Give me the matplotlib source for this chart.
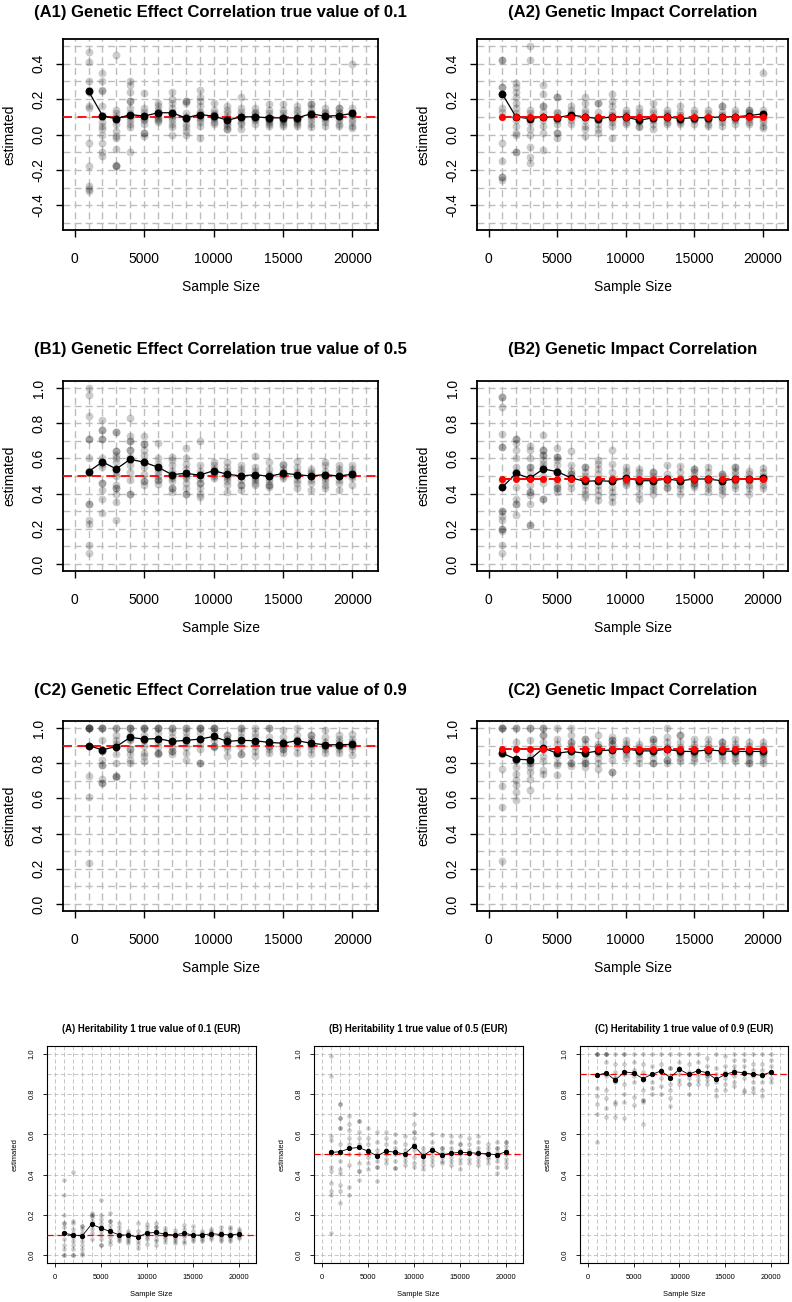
import matplotlib.pyplot as plt
from matplotlib.ticker import MultipleLocator, FixedLocator, FormatStrFormatter

plt.rcParams['font.family'] = ['Liberation Sans', 'DejaVu Sans']
plt.rcParams['axes.unicode_minus'] = False

sizes = [1000, 2000, 3000, 4000, 5000, 6000, 7000, 8000, 9000, 10000,
         11000, 12000, 13000, 14000, 15000, 16000, 17000, 18000, 19000, 20000]

# (A1) genetic effect correlation, true 0.1
a1_pts = [
    [0.465, 0.41, 0.30, 0.25, 0.24, 0.16, 0.15, -0.05, -0.18, -0.29, -0.31, -0.32],
    [0.35, 0.30, 0.25, 0.245, 0.16, 0.11, 0.10, 0.07, 0.05, 0.03, 0.0, -0.05, -0.10, -0.12],
    [0.45, 0.14, 0.12, 0.10, 0.09, 0.08, 0.06, 0.02, -0.01, -0.02, -0.08, -0.17, -0.18, -0.18],
    [0.30, 0.28, 0.24, 0.19, 0.19, 0.15, 0.12, 0.11, 0.10, 0.08, 0.06, 0.04, -0.10],
    [0.235, 0.15, 0.13, 0.11, 0.10, 0.09, 0.08, 0.06, 0.01, 0.01, -0.01],
    [0.18, 0.16, 0.14, 0.13, 0.12, 0.11, 0.10, 0.09, 0.08, 0.07],
    [0.24, 0.20, 0.18, 0.15, 0.13, 0.12, 0.11, 0.10, 0.08, 0.06, 0.04, 0.00],
    [0.19, 0.19, 0.18, 0.12, 0.10, 0.09, 0.09, 0.06, 0.04, 0.02, 0.00],
    [0.25, 0.21, 0.19, 0.16, 0.13, 0.12, 0.11, 0.10, 0.09, 0.07, 0.05, -0.02],
    [0.18, 0.14, 0.12, 0.11, 0.11, 0.10, 0.10, 0.09, 0.07, 0.06],
    [0.16, 0.14, 0.12, 0.10, 0.09, 0.08, 0.07, 0.06, 0.05, 0.03, 0.03],
    [0.21, 0.15, 0.13, 0.11, 0.10, 0.10, 0.09, 0.07, 0.06, 0.03],
    [0.15, 0.13, 0.12, 0.11, 0.10, 0.10, 0.09, 0.08, 0.06],
    [0.17, 0.14, 0.12, 0.10, 0.09, 0.09, 0.08, 0.07, 0.06, 0.05],
    [0.17, 0.14, 0.12, 0.10, 0.09, 0.09, 0.08, 0.07, 0.06, 0.05],
    [0.16, 0.14, 0.12, 0.10, 0.09, 0.09, 0.08, 0.07, 0.06, 0.05],
    [0.17, 0.17, 0.15, 0.13, 0.12, 0.11, 0.10, 0.08, 0.06, 0.04],
    [0.15, 0.13, 0.12, 0.11, 0.10, 0.10, 0.09, 0.07, 0.05],
    [0.15, 0.15, 0.13, 0.12, 0.11, 0.10, 0.10, 0.08, 0.06, 0.05],
    [0.40, 0.15, 0.13, 0.12, 0.11, 0.11, 0.09, 0.07, 0.05, 0.035],
]
a1_mean = [0.245, 0.107, 0.088, 0.113, 0.104, 0.123, 0.123, 0.094, 0.113, 0.104,
           0.081, 0.100, 0.100, 0.094, 0.094, 0.094, 0.117, 0.104, 0.107, 0.119]

# (A2) genetic impact correlation
a2_pts = [
    [0.42, 0.42, 0.27, 0.27, 0.23, 0.15, 0.13, 0.10, -0.05, -0.15, -0.24, -0.24, -0.26],
    [0.29, 0.27, 0.24, 0.21, 0.18, 0.15, 0.12, 0.10, 0.08, 0.05, 0.01, 0.0, -0.10, -0.10],
    [0.50, 0.42, 0.14, 0.12, 0.10, 0.09, 0.07, 0.03, 0.0, -0.07, -0.13, -0.16],
    [0.28, 0.23, 0.16, 0.16, 0.13, 0.10, 0.10, 0.08, 0.05, 0.01, -0.09],
    [0.21, 0.21, 0.13, 0.12, 0.10, 0.09, 0.08, 0.06, 0.01, 0.01, -0.02],
    [0.16, 0.14, 0.12, 0.11, 0.11, 0.10, 0.08, 0.06],
    [0.21, 0.18, 0.14, 0.12, 0.10, 0.10, 0.08, 0.05, 0.03, -0.01],
    [0.18, 0.18, 0.13, 0.10, 0.09, 0.08, 0.06, 0.03, 0.01],
    [0.23, 0.19, 0.16, 0.13, 0.11, 0.10, 0.09, 0.07, 0.05, -0.02],
    [0.14, 0.12, 0.11, 0.10, 0.10, 0.09, 0.07, 0.06],
    [0.15, 0.13, 0.11, 0.09, 0.08, 0.07, 0.05, 0.04],
    [0.18, 0.14, 0.12, 0.10, 0.09, 0.08, 0.06, 0.03],
    [0.14, 0.12, 0.11, 0.10, 0.10, 0.09, 0.07, 0.06],
    [0.16, 0.13, 0.11, 0.09, 0.09, 0.08, 0.07, 0.06],
    [0.14, 0.12, 0.10, 0.09, 0.09, 0.08, 0.06],
    [0.14, 0.12, 0.10, 0.09, 0.09, 0.08, 0.06, 0.05],
    [0.16, 0.16, 0.13, 0.11, 0.10, 0.09, 0.07, 0.05],
    [0.14, 0.12, 0.10, 0.10, 0.09, 0.08, 0.06],
    [0.14, 0.14, 0.13, 0.12, 0.10, 0.09, 0.07, 0.06],
    [0.35, 0.14, 0.12, 0.11, 0.09, 0.07, 0.05, 0.035],
]
a2_mean = [0.23, 0.10, 0.09, 0.10, 0.095, 0.11, 0.10, 0.09, 0.10, 0.10,
           0.08, 0.095, 0.10, 0.09, 0.095, 0.095, 0.10, 0.10, 0.107, 0.117]
a2_true = [0.10, 0.10, 0.10, 0.10, 0.10, 0.10, 0.10, 0.10, 0.10, 0.10,
           0.10, 0.10, 0.10, 0.10, 0.10, 0.10, 0.10, 0.10, 0.10, 0.10]

# (B1) genetic effect correlation, true 0.5
b1_pts = [
    [1.0, 0.96, 0.84, 0.71, 0.71, 0.60, 0.53, 0.34, 0.34, 0.25, 0.23, 0.11, 0.065],
    [0.82, 0.76, 0.76, 0.71, 0.71, 0.60, 0.58, 0.57, 0.55, 0.46, 0.46, 0.42, 0.37, 0.29],
    [0.75, 0.75, 0.64, 0.64, 0.62, 0.60, 0.58, 0.54, 0.52, 0.50, 0.45, 0.43, 0.43, 0.40, 0.355, 0.25],
    [0.83, 0.73, 0.70, 0.70, 0.65, 0.65, 0.61, 0.59, 0.56, 0.52, 0.48, 0.40, 0.40],
    [0.73, 0.68, 0.68, 0.65, 0.62, 0.58, 0.55, 0.51, 0.47, 0.47, 0.45],
    [0.69, 0.60, 0.57, 0.55, 0.54, 0.52, 0.50, 0.48, 0.48, 0.455],
    [0.61, 0.59, 0.56, 0.53, 0.51, 0.50, 0.49, 0.47, 0.43, 0.43, 0.41],
    [0.66, 0.60, 0.57, 0.54, 0.51, 0.50, 0.49, 0.46, 0.43, 0.40, 0.40],
    [0.70, 0.56, 0.53, 0.51, 0.49, 0.46, 0.46, 0.43, 0.40, 0.38],
    [0.58, 0.56, 0.54, 0.53, 0.52, 0.51, 0.50, 0.49],
    [0.58, 0.55, 0.53, 0.51, 0.50, 0.49, 0.47, 0.45, 0.41],
    [0.56, 0.54, 0.52, 0.50, 0.50, 0.48, 0.45, 0.45, 0.42],
    [0.615, 0.55, 0.53, 0.51, 0.50, 0.49, 0.48, 0.46, 0.45],
    [0.58, 0.54, 0.51, 0.50, 0.49, 0.47, 0.45, 0.45, 0.44],
    [0.57, 0.56, 0.54, 0.52, 0.51, 0.51, 0.50, 0.49],
    [0.585, 0.55, 0.52, 0.51, 0.50, 0.48, 0.46, 0.43],
    [0.54, 0.52, 0.51, 0.50, 0.50, 0.48, 0.46, 0.42],
    [0.58, 0.56, 0.53, 0.51, 0.50, 0.49, 0.47, 0.45, 0.43],
    [0.56, 0.54, 0.52, 0.50, 0.50, 0.48, 0.46, 0.42],
    [0.565, 0.54, 0.52, 0.51, 0.51, 0.50, 0.49, 0.45],
]
b1_mean = [0.525, 0.58, 0.54, 0.595, 0.578, 0.55, 0.508, 0.515, 0.505, 0.53,
           0.51, 0.50, 0.508, 0.498, 0.515, 0.508, 0.50, 0.508, 0.50, 0.51]

# (B2) genetic impact correlation
b2_pts = [
    [0.95, 0.95, 0.89, 0.74, 0.665, 0.665, 0.48, 0.30, 0.30, 0.27, 0.25, 0.20, 0.20, 0.19, 0.11, 0.06],
    [0.71, 0.71, 0.69, 0.65, 0.60, 0.55, 0.52, 0.49, 0.44, 0.37, 0.34, 0.34, 0.28],
    [0.67, 0.65, 0.60, 0.55, 0.55, 0.52, 0.49, 0.45, 0.41, 0.41, 0.39, 0.34, 0.22, 0.22],
    [0.735, 0.65, 0.65, 0.62, 0.62, 0.59, 0.57, 0.55, 0.50, 0.46, 0.37, 0.37],
    [0.66, 0.61, 0.61, 0.59, 0.56, 0.53, 0.52, 0.48, 0.45, 0.43, 0.43, 0.41],
    [0.64, 0.56, 0.53, 0.51, 0.51, 0.49, 0.46, 0.43],
    [0.55, 0.55, 0.52, 0.50, 0.48, 0.47, 0.45, 0.42, 0.40, 0.38],
    [0.59, 0.57, 0.54, 0.51, 0.48, 0.47, 0.45, 0.42, 0.39, 0.365],
    [0.645, 0.57, 0.52, 0.49, 0.47, 0.47, 0.44, 0.41, 0.38, 0.355],
    [0.55, 0.53, 0.51, 0.49, 0.48, 0.47, 0.46, 0.45],
    [0.54, 0.52, 0.50, 0.48, 0.47, 0.46, 0.44, 0.40, 0.37],
    [0.52, 0.52, 0.50, 0.48, 0.47, 0.46, 0.44, 0.42, 0.40],
    [0.56, 0.51, 0.49, 0.48, 0.48, 0.46, 0.44, 0.43],
    [0.555, 0.52, 0.49, 0.47, 0.47, 0.45, 0.43, 0.40],
    [0.54, 0.54, 0.52, 0.50, 0.48, 0.46, 0.46, 0.45, 0.44],
    [0.55, 0.52, 0.49, 0.48, 0.47, 0.45, 0.43, 0.41],
    [0.51, 0.51, 0.50, 0.48, 0.47, 0.46, 0.44, 0.42, 0.395],
    [0.55, 0.55, 0.53, 0.51, 0.49, 0.48, 0.47, 0.45, 0.43],
    [0.53, 0.51, 0.49, 0.48, 0.47, 0.45, 0.43, 0.40],
    [0.545, 0.52, 0.50, 0.49, 0.49, 0.47, 0.45, 0.43],
]
b2_mean = [0.435, 0.515, 0.487, 0.54, 0.525, 0.49, 0.47, 0.473, 0.47, 0.49,
           0.473, 0.473, 0.483, 0.473, 0.483, 0.483, 0.473, 0.483, 0.483, 0.487]
b2_true = [0.485, 0.485, 0.485, 0.485, 0.485, 0.485, 0.485, 0.485, 0.485, 0.485,
           0.485, 0.485, 0.485, 0.485, 0.485, 0.485, 0.485, 0.485, 0.485, 0.485]

# (C1) genetic effect correlation, true 0.9
c1_pts = [
    [1.0, 1.0, 1.0, 1.0, 1.0, 0.90, 0.73, 0.61, 0.235],
    [1.0, 1.0, 1.0, 0.93, 0.87, 0.87, 0.82, 0.79, 0.79, 0.71, 0.685, 0.685],
    [1.0, 1.0, 0.96, 0.93, 0.91, 0.89, 0.85, 0.80, 0.73, 0.73, 0.72],
    [1.0, 1.0, 1.0, 0.96, 0.94, 0.93, 0.88, 0.88, 0.85, 0.82, 0.80],
    [1.0, 1.0, 1.0, 0.96, 0.93, 0.93, 0.90, 0.86, 0.84, 0.815],
    [1.0, 1.0, 1.0, 0.97, 0.94, 0.92, 0.89, 0.86, 0.86, 0.85],
    [1.0, 1.0, 0.98, 0.95, 0.92, 0.92, 0.89, 0.87, 0.87, 0.85],
    [1.0, 1.0, 0.98, 0.95, 0.93, 0.92, 0.89, 0.86, 0.82],
    [1.0, 1.0, 1.0, 0.97, 0.94, 0.91, 0.88, 0.80, 0.80],
    [1.0, 1.0, 1.0, 0.98, 0.95, 0.93, 0.90, 0.90, 0.89],
    [0.96, 0.96, 0.94, 0.92, 0.92, 0.90, 0.88, 0.84],
    [1.0, 1.0, 0.98, 0.95, 0.92, 0.89, 0.85, 0.85],
    [1.0, 0.97, 0.95, 0.92, 0.92, 0.90, 0.87, 0.84],
    [1.0, 1.0, 0.95, 0.92, 0.90, 0.90, 0.88, 0.86],
    [0.99, 0.95, 0.92, 0.91, 0.90, 0.88, 0.88, 0.86],
    [1.0, 0.96, 0.93, 0.93, 0.91, 0.89, 0.86],
    [0.96, 0.96, 0.94, 0.92, 0.91, 0.90, 0.88, 0.85],
    [0.99, 0.95, 0.92, 0.90, 0.90, 0.88, 0.86],
    [0.96, 0.94, 0.92, 0.90, 0.90, 0.88, 0.86],
    [0.965, 0.94, 0.92, 0.90, 0.90, 0.88, 0.845],
]
c1_mean = [0.90, 0.876, 0.895, 0.947, 0.937, 0.94, 0.924, 0.93, 0.937, 0.952,
           0.924, 0.93, 0.928, 0.918, 0.914, 0.928, 0.914, 0.905, 0.905, 0.907]

# (C2) genetic impact correlation
c2_pts = [
    [1.0, 1.0, 1.0, 0.85, 0.765, 0.67, 0.55, 0.245],
    [1.0, 1.0, 0.92, 0.88, 0.82, 0.82, 0.78, 0.74, 0.705, 0.676, 0.638, 0.59],
    [1.0, 1.0, 0.93, 0.88, 0.84, 0.80, 0.80, 0.78, 0.75, 0.71, 0.65],
    [1.0, 1.0, 0.96, 0.96, 0.92, 0.88, 0.84, 0.81, 0.76, 0.74],
    [1.0, 0.94, 0.91, 0.87, 0.86, 0.84, 0.80, 0.79, 0.735],
    [1.0, 0.96, 0.92, 0.92, 0.90, 0.87, 0.84, 0.80, 0.80, 0.785],
    [0.94, 0.94, 0.91, 0.88, 0.86, 0.85, 0.82, 0.80, 0.80, 0.78],
    [0.96, 0.91, 0.89, 0.89, 0.86, 0.83, 0.80, 0.765],
    [0.95, 0.93, 0.93, 0.91, 0.91, 0.88, 0.85, 0.82, 0.75, 0.75],
    [0.93, 0.91, 0.89, 0.88, 0.87, 0.85, 0.83],
    [0.91, 0.89, 0.87, 0.87, 0.85, 0.83, 0.80],
    [0.94, 0.94, 0.92, 0.89, 0.87, 0.86, 0.83, 0.80, 0.80],
    [1.0, 0.95, 0.92, 0.89, 0.88, 0.86, 0.82, 0.82, 0.80],
    [0.96, 0.96, 0.92, 0.89, 0.87, 0.86, 0.85, 0.83, 0.81],
    [0.94, 0.91, 0.89, 0.87, 0.86, 0.85, 0.83, 0.81],
    [0.94, 0.91, 0.89, 0.87, 0.87, 0.85, 0.83],
    [0.92, 0.92, 0.90, 0.88, 0.87, 0.86, 0.84, 0.82],
    [0.94, 0.91, 0.89, 0.87, 0.86, 0.85, 0.83, 0.81],
    [0.92, 0.90, 0.88, 0.86, 0.86, 0.84, 0.82, 0.80, 0.80],
    [0.92, 0.90, 0.88, 0.86, 0.86, 0.84, 0.82, 0.80],
]
c2_mean = [0.857, 0.823, 0.819, 0.886, 0.857, 0.867, 0.857, 0.87, 0.876, 0.882,
           0.87, 0.87, 0.88, 0.867, 0.867, 0.876, 0.87, 0.867, 0.867, 0.867]
c2_true = [0.88, 0.88, 0.88, 0.88, 0.88, 0.88, 0.88, 0.88, 0.88, 0.88,
           0.88, 0.88, 0.88, 0.88, 0.88, 0.88, 0.88, 0.88, 0.88, 0.88]

# heritability panels (EUR)
ha_pts = [
    [0.375, 0.30, 0.20, 0.16, 0.16, 0.14, 0.11, 0.08, 0.05, 0.03, 0.0, 0.0],
    [0.415, 0.17, 0.16, 0.13, 0.11, 0.09, 0.07, 0.05, 0.03, 0.0, 0.0],
    [0.145, 0.145, 0.13, 0.11, 0.09, 0.07, 0.05, 0.03, 0.01, 0.0],
    [0.21, 0.20, 0.20, 0.19, 0.17, 0.15, 0.13, 0.11, 0.08],
    [0.275, 0.20, 0.18, 0.16, 0.14, 0.14, 0.12, 0.10, 0.08, 0.05, 0.05],
    [0.21, 0.17, 0.17, 0.15, 0.13, 0.11, 0.09, 0.07, 0.055],
    [0.16, 0.14, 0.12, 0.10, 0.09, 0.08, 0.07],
    [0.12, 0.11, 0.10, 0.09, 0.08, 0.07, 0.06],
    [0.16, 0.12, 0.10, 0.09, 0.09, 0.07, 0.055, 0.035],
    [0.155, 0.14, 0.12, 0.10, 0.09, 0.08, 0.055],
    [0.16, 0.14, 0.14, 0.12, 0.10, 0.08, 0.07, 0.05],
    [0.135, 0.12, 0.11, 0.10, 0.09, 0.08, 0.065],
    [0.125, 0.11, 0.10, 0.09, 0.08, 0.07, 0.06],
    [0.15, 0.13, 0.11, 0.10, 0.09, 0.07, 0.06],
    [0.145, 0.12, 0.10, 0.09, 0.08, 0.07],
    [0.12, 0.11, 0.10, 0.09, 0.08, 0.07],
    [0.13, 0.12, 0.11, 0.11, 0.10, 0.09, 0.08],
    [0.14, 0.12, 0.11, 0.10, 0.09, 0.08, 0.07],
    [0.14, 0.13, 0.11, 0.10, 0.09, 0.08, 0.07],
    [0.13, 0.12, 0.11, 0.10, 0.09, 0.085],
]
ha_mean = [0.109, 0.099, 0.096, 0.153, 0.134, 0.117, 0.10, 0.099, 0.089, 0.109,
           0.112, 0.104, 0.099, 0.109, 0.099, 0.099, 0.106, 0.102, 0.10, 0.104]

hb_pts = [
    [0.99, 0.89, 0.59, 0.57, 0.50, 0.44, 0.42, 0.36, 0.32, 0.30, 0.11],
    [0.75, 0.75, 0.68, 0.68, 0.63, 0.63, 0.55, 0.47, 0.43, 0.41, 0.35, 0.32, 0.26],
    [0.69, 0.65, 0.62, 0.58, 0.55, 0.50, 0.45, 0.34, 0.30],
    [0.665, 0.665, 0.61, 0.58, 0.55, 0.50, 0.46, 0.42, 0.42, 0.375],
    [0.63, 0.58, 0.55, 0.52, 0.49, 0.46, 0.43],
    [0.61, 0.56, 0.52, 0.50, 0.47, 0.44, 0.44, 0.37],
    [0.61, 0.58, 0.55, 0.52, 0.50, 0.48, 0.46],
    [0.60, 0.56, 0.53, 0.50, 0.47, 0.435, 0.435],
    [0.59, 0.55, 0.52, 0.49, 0.47, 0.45],
    [0.70, 0.65, 0.61, 0.61, 0.58, 0.55, 0.52, 0.49, 0.46, 0.44],
    [0.53, 0.51, 0.49, 0.47, 0.45, 0.43],
    [0.60, 0.56, 0.53, 0.51, 0.49, 0.47, 0.45],
    [0.595, 0.53, 0.53, 0.51, 0.49, 0.47, 0.46],
    [0.59, 0.56, 0.53, 0.51, 0.49, 0.47, 0.45],
    [0.59, 0.55, 0.55, 0.52, 0.50, 0.48, 0.46, 0.43],
    [0.58, 0.55, 0.52, 0.50, 0.48, 0.46],
    [0.59, 0.56, 0.53, 0.51, 0.49, 0.47, 0.45],
    [0.55, 0.53, 0.51, 0.49, 0.48, 0.46],
    [0.56, 0.53, 0.53, 0.51, 0.49, 0.47, 0.44, 0.41],
    [0.56, 0.56, 0.54, 0.52, 0.50, 0.48, 0.46, 0.44],
]
hb_mean = [0.51, 0.514, 0.53, 0.535, 0.517, 0.493, 0.517, 0.511, 0.502, 0.544,
           0.494, 0.524, 0.498, 0.506, 0.511, 0.509, 0.506, 0.504, 0.498, 0.514]

hc_pts = [
    [1.0, 1.0, 1.0, 0.83, 0.79, 0.75, 0.70, 0.56],
    [1.0, 1.0, 1.0, 0.96, 0.89, 0.82, 0.78, 0.73, 0.685],
    [1.0, 0.95, 0.91, 0.88, 0.88, 0.86, 0.76, 0.75, 0.685],
    [1.0, 1.0, 0.95, 0.90, 0.85, 0.80, 0.76, 0.68],
    [1.0, 0.96, 0.92, 0.89, 0.86, 0.785, 0.745],
    [1.0, 0.95, 0.91, 0.87, 0.82, 0.77, 0.77, 0.76, 0.65],
    [1.0, 0.94, 0.90, 0.86, 0.83, 0.80],
    [1.0, 0.95, 0.92, 0.88, 0.84, 0.80],
    [1.0, 0.93, 0.93, 0.89, 0.85, 0.82, 0.78, 0.74],
    [1.0, 0.96, 0.93, 0.90, 0.87, 0.85],
    [1.0, 0.95, 0.91, 0.88, 0.85, 0.85, 0.80],
    [1.0, 0.96, 0.92, 0.89, 0.87, 0.85],
    [0.98, 0.94, 0.91, 0.89, 0.89, 0.87, 0.85],
    [1.0, 0.93, 0.90, 0.86, 0.82, 0.79],
    [0.99, 0.94, 0.91, 0.88, 0.85, 0.82],
    [1.0, 0.97, 0.94, 0.92, 0.89, 0.86, 0.84],
    [1.0, 0.97, 0.94, 0.91, 0.88, 0.82, 0.81],
    [1.0, 0.95, 0.92, 0.89, 0.86, 0.83, 0.81],
    [1.0, 0.95, 0.92, 0.89, 0.86, 0.82, 0.79],
    [1.0, 0.97, 0.94, 0.91, 0.88, 0.86],
]
hc_mean = [0.894, 0.906, 0.87, 0.911, 0.906, 0.878, 0.899, 0.916, 0.883, 0.924,
           0.899, 0.917, 0.907, 0.874, 0.899, 0.912, 0.907, 0.899, 0.894, 0.911]

W, H = 792, 1302
fig = plt.figure(figsize=(W / 100, H / 100), dpi=100)


def box(l, t, r, b):
    return fig.add_axes([l / W, 1 - b / H, (r - l) / W, (b - t) / H])


def panel(ax, pts, mean, truth, big=True, red=None, lowrange=False):
    l, b, w, h = ax.get_position().bounds
    wpx, hpx = w * W, h * H
    if big:
        fs, s, ms, lw, tl, gl = 10, 32, 4.6, 0.9, 5, 1.0
    else:
        fs, s, ms, lw, tl, gl = 5.4, 11, 2.8, 0.6, 3, 0.6

    xs, ys = [], []
    for x, vals in zip(sizes, pts):
        xs += [x] * len(vals)
        ys += vals
    ax.scatter(xs, ys, s=s, color='black', alpha=0.2, linewidths=0, zorder=2)

    if red is None:
        ax.axhline(truth, color='red', lw=1.3 if big else 0.9, dashes=(5, 3), zorder=3)
        ax.plot(sizes, mean, color='black', lw=lw, marker='o', ms=ms, zorder=4)
    else:
        ax.plot(sizes, mean, color='black', lw=lw, marker='o', ms=ms, zorder=3)
        ax.plot(sizes, red, color='red', lw=1.4, dashes=(5, 3), marker='o', ms=4,
                zorder=4)

    ax.set_xlim(-840, 21840)
    if lowrange:
        ax.set_ylim(-0.54, 0.54)
        ax.yaxis.set_major_locator(FixedLocator([-0.4, -0.2, 0.0, 0.2, 0.4]))
    else:
        ax.set_ylim(-0.04, 1.04)
        ax.yaxis.set_major_locator(FixedLocator([0.0, 0.2, 0.4, 0.6, 0.8, 1.0]))
    ax.yaxis.set_major_formatter(FormatStrFormatter('%.1f'))
    ax.xaxis.set_major_locator(FixedLocator([0, 5000, 10000, 15000, 20000]))
    ax.xaxis.set_minor_locator(MultipleLocator(1000))
    ax.yaxis.set_minor_locator(MultipleLocator(0.1))
    ax.grid(which='both', color='#bdbdbd', lw=gl, dashes=(5, 3))
    ax.set_axisbelow(True)

    for sp in ax.spines.values():
        sp.set_linewidth(1.3 if big else 0.8)
    ax.tick_params(which='minor', length=0)
    if big:
        ax.tick_params(axis='x', length=tl, width=1, pad=10.5, labelsize=fs)
        ax.tick_params(axis='y', length=tl, width=1, pad=7.5, labelsize=fs,
                       labelrotation=90)
    else:
        ax.tick_params(axis='x', length=tl, width=0.6, pad=5.2, labelsize=fs)
        ax.tick_params(axis='y', length=tl, width=0.6, pad=5, labelsize=fs,
                       labelrotation=90)
    for t in ax.get_yticklabels():
        t.set_va('center')

    ax.set_xlabel('Sample Size', fontsize=fs)
    ax.xaxis.label.set_va('center')
    ax.set_ylabel('estimated', fontsize=fs)
    ax.yaxis.label.set_va('center')
    if big:
        ax.xaxis.set_label_coords(0.5, -57 / hpx)
        ax.yaxis.set_label_coords(-54 / wpx, 0.5)
    else:
        ax.xaxis.set_label_coords(0.5, -32 / hpx)
        ax.yaxis.set_label_coords(-32 / wpx, 0.5)


def title(ax, text, ty, big=True):
    l, b, w, h = ax.get_position().bounds
    fig.text(l + w / 2, 1 - ty / H, text, ha='center', va='center',
             fontsize=12 if big else 6.9, fontweight='bold')


ax = box(63, 39, 378, 230)
panel(ax, a1_pts, a1_mean, 0.1, lowrange=True)
title(ax, '(A1) Genetic Effect Correlation true value of 0.1', 12)
ax = box(477, 39, 788, 230)
panel(ax, a2_pts, a2_mean, 0.1, red=a2_true, lowrange=True)
title(ax, '(A2) Genetic Impact Correlation', 12)

ax = box(63, 381, 378, 571)
panel(ax, b1_pts, b1_mean, 0.5)
title(ax, '(B1) Genetic Effect Correlation true value of 0.5', 349)
ax = box(477, 381, 788, 571)
panel(ax, b2_pts, b2_mean, 0.5, red=b2_true)
title(ax, '(B2) Genetic Impact Correlation', 349)

ax = box(63, 721, 378, 911)
panel(ax, c1_pts, c1_mean, 0.9)
title(ax, '(C2) Genetic Effect Correlation true value of 0.9', 690)
ax = box(477, 721, 788, 911)
panel(ax, c2_pts, c2_mean, 0.9, red=c2_true)
title(ax, '(C2) Genetic Impact Correlation', 690)

ax = box(47, 1046, 256, 1263)
panel(ax, ha_pts, ha_mean, 0.1, big=False)
title(ax, '(A) Heritability 1 true value of 0.1 (EUR)', 1029, big=False)
ax = box(314, 1046, 523, 1263)
panel(ax, hb_pts, hb_mean, 0.5, big=False)
title(ax, '(B) Heritability 1 true value of 0.5 (EUR)', 1029, big=False)
ax = box(580, 1046, 788, 1263)
panel(ax, hc_pts, hc_mean, 0.9, big=False)
title(ax, '(C) Heritability 1 true value of 0.9 (EUR)', 1029, big=False)

fig.savefig('out.png', dpi=100, facecolor='white')
